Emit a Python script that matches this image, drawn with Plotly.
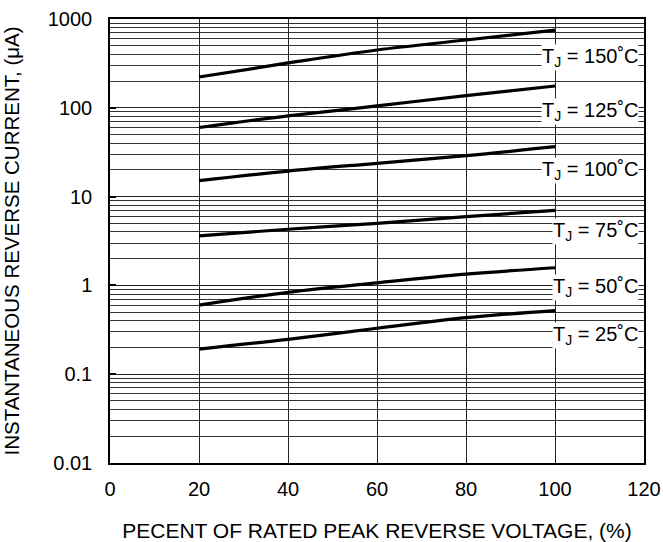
import numpy as np
import plotly.graph_objects as go

# Data
x_pct = [20, 40, 60, 80, 100]
temps = ["150", "125", "100", "75", "50", "25"]
i_150 = [222, 320, 448, 580, 751]
i_125 = [60, 81, 105, 137, 176]
i_100 = [15.1, 19.4, 23.7, 28.9, 36.5]
i_75 = [3.62, 4.29, 5.0, 5.94, 7.0]
i_50 = [0.60, 0.835, 1.07, 1.34, 1.58]
i_25 = [0.192, 0.247, 0.329, 0.433, 0.52]
series = [i_150, i_125, i_100, i_75, i_50, i_25]

y_tickvals = [0.01, 0.1, 1, 10, 100, 1000]
y_ticktext = ["0.01", "0.1", "1", "10", "100", "1000"]
x_tickvals = [0, 20, 40, 60, 80, 100, 120]

# label anchor heights (uA)
label_y = [373, 92, 19.7, 4.05, 0.935, 0.273]

FONT = "Arial, Liberation Sans, sans-serif"

fig = go.Figure()
for t, ys in zip(temps, series):
    fig.add_trace(go.Scatter(x=x_pct, y=ys, mode="lines",
                             line=dict(color="black", width=3.2, shape="spline"),
                             name=t, showlegend=False))

for t, ly in zip(temps, label_y):
    fig.add_annotation(x=118.8, y=np.log10(ly), xref="x", yref="y",
                       text=f"T<sub>J</sub> = {t}˚C", showarrow=False,
                       xanchor="right", yanchor="middle",
                       bgcolor="white", borderpad=0,
                       font=dict(family=FONT, size=20, color="black"))

fig.update_xaxes(range=[0, 120], tickvals=x_tickvals,
                 showgrid=True, gridcolor="#222", gridwidth=1,
                 showline=True, linecolor="black", linewidth=1.5, mirror=True,
                 ticks="", zeroline=False, ticklabelstandoff=7,
                 tickfont=dict(family=FONT, size=20, color="black"),
                 title=dict(text="PECENT OF RATED PEAK REVERSE VOLTAGE, (%)",
                            font=dict(family=FONT, size=21, color="black"),
                            standoff=27))
fig.update_yaxes(type="log", range=[-2, 3], tickvals=y_tickvals, ticktext=y_ticktext,
                 showgrid=True, gridcolor="#222", gridwidth=1,
                 minor=dict(dtick="D1", showgrid=True, gridcolor="#333", gridwidth=1, ticks=""),
                 showline=True, linecolor="black", linewidth=1.5, mirror=True,
                 ticks="inside", ticklen=6, tickwidth=2, tickcolor="black",
                 zeroline=False, ticklabelstandoff=12,
                 tickfont=dict(family=FONT, size=20, color="black"),
                 title=dict(text="INSTANTANEOUS REVERSE CURRENT, (μA)",
                            font=dict(family=FONT, size=20.5, color="black"),
                            standoff=26))

fig.update_layout(width=663, height=542,
                  margin=dict(l=110, r=19, t=19, b=79, autoexpand=False),
                  plot_bgcolor="white", paper_bgcolor="white")

fig.write_html("out.html")
